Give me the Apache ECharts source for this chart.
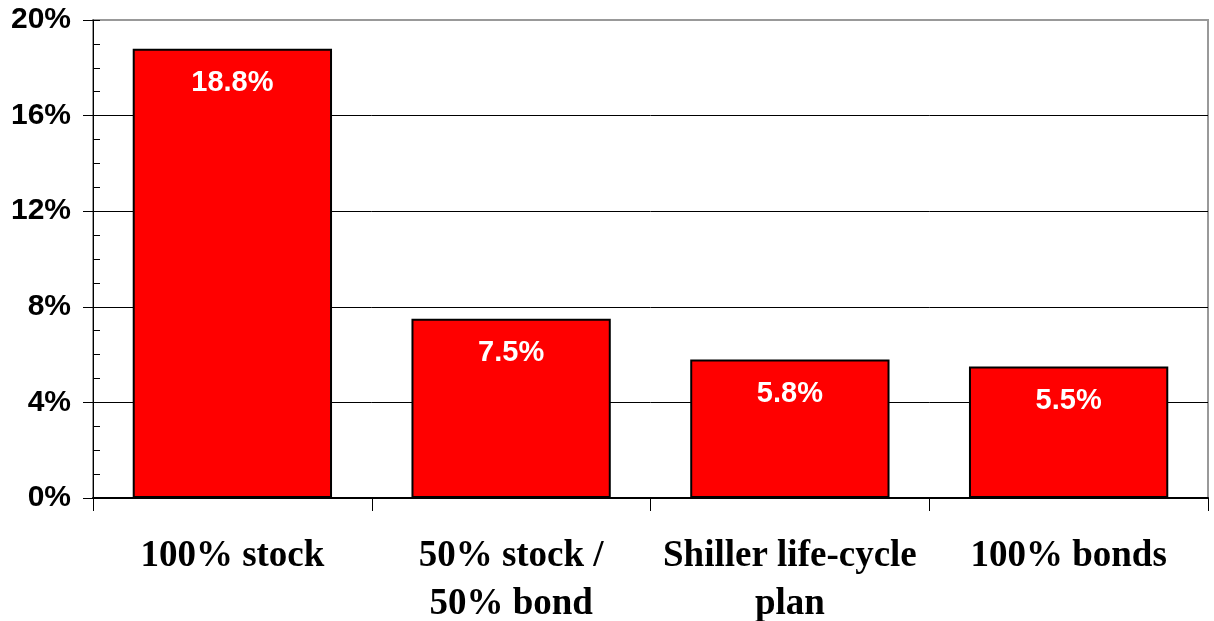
<!DOCTYPE html>
<html>
<head>
<meta charset="utf-8">
<script src="https://cdn.jsdelivr.net/npm/echarts@6/dist/echarts.min.js"></script>
<style>
  html, body { margin: 0; padding: 0; background: #fff; }
  #chart { width: 1214px; height: 621px; }
</style>
</head>
<body>
<div id="chart"></div>
<script>
// categories and values
var categories = ['100% stock', '50% stock /\n50% bond', 'Shiller life-cycle\nplan', '100% bonds'];
var returns = [18.8, 7.5, 5.8, 5.5];
var yTicks = [0, 4, 8, 12, 16, 20];

var chart = echarts.init(document.getElementById('chart'));

chart.setOption({
    animation: false,
    grid: {
        left: 93, right: 6, top: 20, bottom: 123,
        outerBoundsMode: 'none',
        show: true, borderColor: '#999', borderWidth: 2, backgroundColor: '#fff'
    },
    xAxis: {
        type: 'category',
        data: categories,
        axisLine: { lineStyle: { color: '#000', width: 2 } },
        axisTick: { show: true, alignWithLabel: false, length: 13, lineStyle: { color: '#000' } },
        axisLabel: {
            color: '#000', fontFamily: 'Liberation Serif', fontWeight: 'bold',
            fontSize: 37, lineHeight: 48, margin: 34, interval: 0
        }
    },
    yAxis: [{
        type: 'value',
        min: yTicks[0], max: yTicks[yTicks.length - 1], interval: 4,
        axisLine: { show: true, lineStyle: { color: '#000' } },
        axisTick: { show: true, length: 10, lineStyle: { color: '#000' } },
        axisLabel: {
            formatter: '{value}%', color: '#000', fontFamily: 'Liberation Sans',
            fontWeight: 'bold', fontSize: 30, margin: 22
        },
        splitLine: { show: true, lineStyle: { color: ['#000', '#000', '#000', '#000', '#000', '#999'], width: 1 } }
    }, {
        // minor ticks, pointing into the plot
        type: 'value', position: 'left', offset: 0,
        min: 0, max: 20, interval: 1,
        axisLine: { show: false },
        axisTick: { show: true, inside: true, length: 7, lineStyle: { color: '#000' } },
        axisLabel: { show: false },
        splitLine: { show: false }
    }],
    series: [{
        type: 'bar',
        data: returns,
        barWidth: '71.5%',
        itemStyle: { color: '#ff0000', borderColor: '#000', borderWidth: 2 },
        label: {
            show: true, position: 'insideTop', distance: 20,
            formatter: '{c}%', color: '#fff', fontFamily: 'Liberation Sans',
            fontWeight: 'bold', fontSize: 29
        }
    }]
});
</script>
</body>
</html>
